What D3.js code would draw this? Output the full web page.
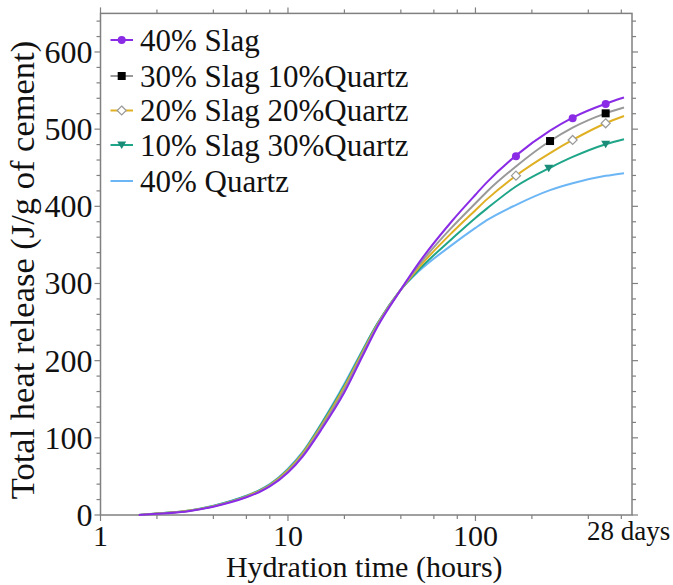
<!DOCTYPE html>
<html>
<head>
<meta charset="utf-8">
<script src="https://cdn.jsdelivr.net/npm/d3@7"></script>
<style>
  body { margin: 0; background: #fff; }
  text { font-family: "Liberation Serif", "Times New Roman", serif; fill: #111; }
</style>
</head>
<body>
<div id="plot"></div>
<script>
const hours = [1.6, 2, 3, 4, 5, 6, 7, 8, 10, 12, 15, 20, 25, 30, 40, 50, 75, 100, 115, 165, 250, 330, 495, 620];

const slag40   = [0, 1.5, 5.3, 10.8, 16.8, 23, 29.5, 37, 55, 76, 110, 159, 206, 244, 292, 327, 381, 415, 431, 466, 498, 515, 533, 541];
const slag30   = [0, 1.6, 5.5, 11.2, 17.3, 23.6, 30.2, 38, 56.5, 78, 113, 163, 209, 246, 292, 324, 373, 404, 419, 452, 484.6, 502, 520.5, 528];
const slag20   = [0, 1.8, 5.7, 11.5, 17.7, 24.2, 31, 38.8, 58, 80, 115, 166, 211, 247, 292, 321, 366, 395, 409, 440, 469, 486, 507.6, 517];
const slag10   = [0, 1.9, 5.9, 11.8, 18.1, 24.6, 31.5, 39.4, 59, 81, 117, 168, 213, 248, 292, 318, 358, 385, 397, 426, 450, 464, 480.5, 487];
const quartz40 = [0, 2, 6, 12, 18.5, 25, 32, 40, 60, 82, 118, 170, 214, 248, 292, 316, 350, 372, 382, 402, 421, 430, 439.5, 443];

// marker positions [hour, value]
const slag40Marks = [[164.5, 465], [330, 514], [495, 532.6]];
const slag30Marks = [[250, 484.6], [495, 520.5]];
const slag20Marks = [[164.5, 439.7], [330, 486], [495, 507.6]];
const slag10Marks = [[246, 449.3], [495, 480.4]];

const seriesNames = ["40% Slag", "30% Slag 10%Quartz", "20% Slag 20%Quartz", "10% Slag 30%Quartz", "40% Quartz"];

const xMajor = [1, 10, 100];
const xMinor = [2, 4, 6, 8, 20, 40, 60, 80, 200, 400, 600];
const yMajor = [0, 100, 200, 300, 400, 500, 600];

const series = [
  {name: seriesNames[0], values: slag40, marks: slag40Marks, color: "#8a2be6", marker: "circle", mfill: "#8a2be6", mstroke: "#8a2be6"},
  {name: seriesNames[1], values: slag30, marks: slag30Marks, color: "#999999", marker: "square", mfill: "#000", mstroke: "#000"},
  {name: seriesNames[2], values: slag20, marks: slag20Marks, color: "#e0b023", marker: "diamond", mfill: "#fff", mstroke: "#999"},
  {name: seriesNames[3], values: slag10, marks: slag10Marks, color: "#1fa588", marker: "triangle", mfill: "#1a8c78", mstroke: "#1a8c78"},
  {name: seriesNames[4], values: quartz40, marks: [], color: "#6cb6f5", marker: null}
];

const W = 673, H = 585;
const pLeft = 100.5, pRight = 632, pTop = 13.4, pBottom = 515;

const svg = d3.select("#plot").append("svg")
    .attr("width", W)
    .attr("height", H);

const x = d3.scaleLog().domain([1, 684]).range([pLeft, pRight]);
const y = d3.scaleLinear().domain([0, 650]).range([pBottom, pTop]);

const axisColor = "#808080";

// frame
svg.append("rect")
    .attr("x", pLeft).attr("y", pTop)
    .attr("width", pRight - pLeft).attr("height", pBottom - pTop)
    .attr("fill", "none").attr("stroke", axisColor).attr("stroke-width", 1.5);

// ticks (outside on all four sides)
const tk = svg.append("g").attr("stroke", axisColor).attr("stroke-width", 1.2);
xMajor.forEach(v => {
  tk.append("line").attr("x1", x(v)).attr("x2", x(v)).attr("y1", pBottom).attr("y2", pBottom + 6);
  tk.append("line").attr("x1", x(v)).attr("x2", x(v)).attr("y1", pTop).attr("y2", pTop - 6);
});
xMinor.forEach(v => {
  tk.append("line").attr("x1", x(v)).attr("x2", x(v)).attr("y1", pBottom).attr("y2", pBottom + 4);
  tk.append("line").attr("x1", x(v)).attr("x2", x(v)).attr("y1", pTop).attr("y2", pTop - 4);
});
d3.range(0, 660, 20).forEach(v => {
  const len = v % 100 === 0 ? 6 : 4;
  tk.append("line").attr("x1", pLeft).attr("x2", pLeft - len).attr("y1", y(v)).attr("y2", y(v));
  tk.append("line").attr("x1", pRight).attr("x2", pRight + len).attr("y1", y(v)).attr("y2", y(v));
});

// tick labels
svg.append("g").selectAll("text")
  .data(xMajor)
  .join("text")
    .attr("x", d => x(d))
    .attr("y", 546)
    .attr("text-anchor", "middle")
    .attr("font-size", 30)
    .text(d => d);

svg.append("text")
    .attr("x", x(672) - 2)
    .attr("y", 540)
    .attr("text-anchor", "middle")
    .attr("font-size", 27)
    .text("28 days");

svg.append("g").selectAll("text")
  .data(yMajor)
  .join("text")
    .attr("x", pLeft - 8)
    .attr("y", d => y(d))
    .attr("dy", "0.34em")
    .attr("text-anchor", "end")
    .attr("font-size", 32)
    .text(d => d);

// axis titles
svg.append("text")
    .attr("x", (pLeft + pRight) / 2 - 2)
    .attr("y", 577)
    .attr("text-anchor", "middle")
    .attr("font-size", 30)
    .text("Hydration time (hours)");

svg.append("text")
    .attr("transform", `translate(34,270) rotate(-90)`)
    .attr("text-anchor", "middle")
    .attr("font-size", 34.5)
    .text("Total heat release (J/g of cement)");

// curves
const line = d3.line()
    .x(d => x(d[0]))
    .y(d => y(d[1]))
    .curve(d3.curveMonotoneX);

const plot = svg.append("g");

// draw the quartz line first so the slag lines sit on top at the end
series.slice().reverse().forEach(s => {
  plot.append("path")
      .datum(hours.map((h, i) => [h, s.values[i]]))
      .attr("fill", "none")
      .attr("stroke", s.color)
      .attr("stroke-width", 2)
      .attr("d", line);
});

function drawMarker(g, type, cx, cy, fill, stroke) {
  if (type === "circle") {
    g.append("circle").attr("cx", cx).attr("cy", cy).attr("r", 4).attr("fill", fill);
  } else if (type === "square") {
    g.append("rect").attr("x", cx - 4).attr("y", cy - 4).attr("width", 8).attr("height", 8).attr("fill", fill);
  } else if (type === "diamond") {
    g.append("path")
        .attr("d", `M${cx},${cy - 4.5}L${cx + 4.5},${cy}L${cx},${cy + 4.5}L${cx - 4.5},${cy}Z`)
        .attr("fill", fill).attr("stroke", stroke).attr("stroke-width", 1.2);
  } else if (type === "triangle") {
    g.append("path")
        .attr("d", `M${cx - 4.5},${cy - 3.5}L${cx + 4.5},${cy - 3.5}L${cx},${cy + 4}Z`)
        .attr("fill", fill);
  }
}

series.forEach(s => {
  s.marks.forEach(m => drawMarker(plot, s.marker, x(m[0]), y(m[1]), s.mfill, s.mstroke));
});

// legend
const legend = svg.append("g");
const rowY = [40, 76, 110.5, 145, 181];
series.forEach((s, i) => {
  legend.append("line")
      .attr("x1", 110.5).attr("x2", 133)
      .attr("y1", rowY[i]).attr("y2", rowY[i])
      .attr("stroke", s.color).attr("stroke-width", 2);
  if (s.marker) drawMarker(legend, s.marker, 121.7, rowY[i], s.mfill, s.mstroke);
  legend.append("text")
      .attr("x", 140)
      .attr("y", rowY[i])
      .attr("dy", "0.35em")
      .attr("font-size", 31)
      .text(s.name);
});
</script>
</body>
</html>
